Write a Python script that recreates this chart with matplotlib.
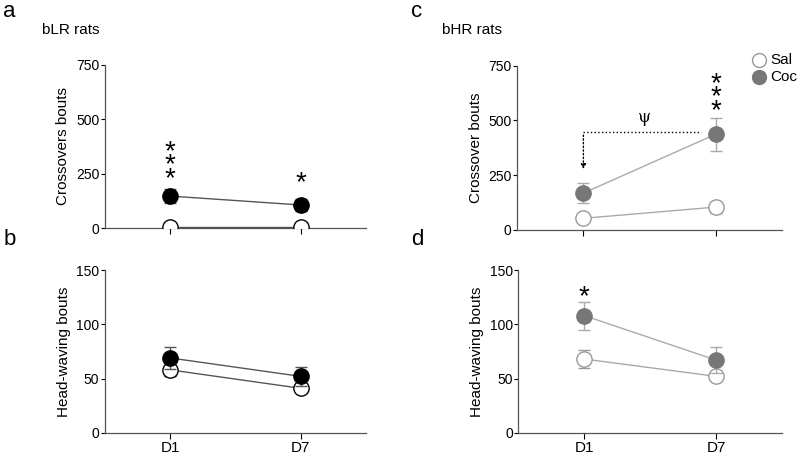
import matplotlib.pyplot as plt
import numpy as np

days = ['D1', 'D7']

# bLR rats
lr_cross_sal = [5, 5]
lr_cross_sal_err = [3, 3]
lr_cross_coc = [147, 106]
lr_cross_coc_err = [32, 28]
lr_head_sal = [58, 41]
lr_head_sal_err = [6, 3]
lr_head_coc = [69, 52]
lr_head_coc_err = [10, 9]

# bHR rats
hr_cross_sal = [53, 104]
hr_cross_sal_err = [8, 25]
hr_cross_coc = [168, 437]
hr_cross_coc_err = [47, 76]
hr_head_sal = [68, 52]
hr_head_sal_err = [8, 4]
hr_head_coc = [108, 67]
hr_head_coc_err = [13, 12]

x = np.arange(len(days))

fig = plt.figure(figsize=(8, 4.57), dpi=100)
plt.rcParams['font.family'] = ['Liberation Sans', 'DejaVu Sans']

axa = fig.add_axes([0.131, 0.501, 0.3265, 0.357])
axb = fig.add_axes([0.131, 0.053, 0.3265, 0.356])
axc = fig.add_axes([0.6466, 0.497, 0.3305, 0.359])
axd = fig.add_axes([0.648, 0.053, 0.3295, 0.356])


def panel(ax, sal, sal_err, coc, coc_err, ymax, yticks, ylabel, coc_color, line_color, sal_edge, showx):
    ax.errorbar(x, sal, yerr=sal_err, color=line_color, lw=1, ecolor=sal_edge, elinewidth=1,
                capsize=4, marker='o', ms=11, mfc='white', mec=sal_edge, mew=1, zorder=3)
    ax.errorbar(x, coc, yerr=coc_err, color=line_color, lw=1, ecolor=line_color, elinewidth=1,
                capsize=4, marker='o', ms=11, mfc=coc_color, mec=coc_color, zorder=4)
    ax.set_xlim(-0.5, 1.5)
    ax.set_ylim(0, ymax)
    ax.set_yticks(yticks)
    ax.set_xticks(x)
    if showx:
        ax.set_xticklabels(days, fontsize=11)
    else:
        ax.set_xticklabels([])
    ax.set_ylabel(ylabel, fontsize=11)
    ax.tick_params(axis='y', labelsize=10, length=3, width=0.8, pad=1)
    ax.tick_params(axis='x', length=4, width=0.8, pad=2)
    ax.spines['top'].set_visible(False)
    ax.spines['right'].set_visible(False)
    for s in ['left', 'bottom']:
        ax.spines[s].set_color('#555555')
        ax.spines[s].set_linewidth(0.9)


panel(axa, lr_cross_sal, lr_cross_sal_err, lr_cross_coc, lr_cross_coc_err, 750, [0, 250, 500, 750],
      'Crossovers bouts', 'black', '#555555', 'black', False)
panel(axb, lr_head_sal, lr_head_sal_err, lr_head_coc, lr_head_coc_err, 150, [0, 50, 100, 150],
      'Head-waving bouts', 'black', '#555555', 'black', True)
panel(axc, hr_cross_sal, hr_cross_sal_err, hr_cross_coc, hr_cross_coc_err, 750, [0, 250, 500, 750],
      'Crossover bouts', '#777777', '#aaaaaa', '#999999', False)
panel(axd, hr_head_sal, hr_head_sal_err, hr_head_coc, hr_head_coc_err, 150, [0, 50, 100, 150],
      'Head-waving bouts', '#777777', '#aaaaaa', '#999999', True)

# significance stars
stars3 = '*\n*\n*'
axa.text(0, 288, stars3, ha='center', va='center', fontsize=20, linespacing=0.38)
axa.text(1, 205, '*', ha='center', va='center', fontsize=20)
axc.text(1, 605, stars3, ha='center', va='center', fontsize=20, linespacing=0.38)
axd.text(0, 125, '*', ha='center', va='center', fontsize=20)

# psi bracket
axc.plot([0, 0.89], [446, 446], color='black', lw=1, ls=':')
axc.annotate('', xy=(0, 265), xytext=(0, 446),
             arrowprops=dict(arrowstyle='-|>', color='black', lw=1, ls=':', mutation_scale=7))
axc.text(0.46, 515, 'ψ', ha='center', va='center', fontsize=12, family='DejaVu Serif')

# legend
fig.text(0.9625, 0.868, 'Sal', fontsize=11, va='center')
fig.text(0.9625, 0.832, 'Coc', fontsize=11, va='center')
fig.lines.append(plt.Line2D([0.949], [0.868], transform=fig.transFigure, marker='o', ms=10,
                            mfc='white', mec='#999999', ls=''))
fig.lines.append(plt.Line2D([0.949], [0.832], transform=fig.transFigure, marker='o', ms=10,
                            mfc='#777777', mec='#777777', ls=''))

# panel letters and titles
fig.text(0.004, 0.975, 'a', fontsize=16, va='center')
fig.text(0.004, 0.475, 'b', fontsize=16, va='center')
fig.text(0.514, 0.975, 'c', fontsize=16, va='center')
fig.text(0.514, 0.475, 'd', fontsize=16, va='center')
fig.text(0.052, 0.935, 'bLR rats', fontsize=11, va='center')
fig.text(0.552, 0.935, 'bHR rats', fontsize=11, va='center')

fig.savefig('out.png', dpi=100)
